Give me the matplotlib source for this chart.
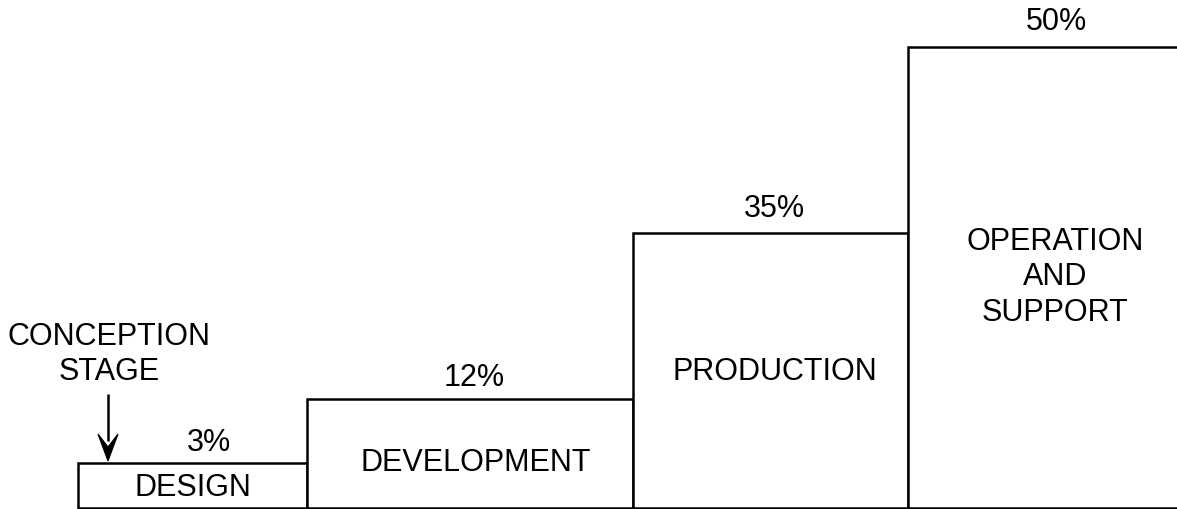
import matplotlib
matplotlib.use("Agg")
import matplotlib.pyplot as plt
from matplotlib.patches import Polygon

# ---- data ----
stages = ["DESIGN", "DEVELOPMENT", "PRODUCTION", "OPERATION\nAND\nSUPPORT"]
shares = [3, 12, 35, 50]
share_labels = [f"{s}%" for s in shares]
# schematic step heights and widths as drawn in the picture (arbitrary units)
step_heights = [45, 108.5, 274.5, 460.5]
step_widths = [229, 326, 275, 290]
note = "CONCEPTION\nSTAGE"

plt.rcParams['font.family'] = ['Liberation Sans', 'DejaVu Sans']
FS = 22
LS = 1.24
W, H = 1177, 510

fig = plt.figure(figsize=(W / 100, H / 100), dpi=100)
ax = fig.add_axes([0, 0, 1, 1])
ax.set_xlim(0, W)
ax.set_ylim(0, H)
ax.axis('off')

x0 = 78
base = 1.5
lefts = []
x = x0
for w in step_widths:
    lefts.append(x)
    x += w

ax.bar(lefts, step_heights, width=step_widths, bottom=base, align='edge',
       facecolor='white', edgecolor='black', linewidth=1.8, zorder=2)

# percent labels above each step
pct_dx = [16, 4, 4, 3]
pct_dy = [20, 22, 25, 26]
for l, w, h, lab, dx, dy in zip(lefts, step_widths, step_heights, share_labels, pct_dx, pct_dy):
    ax.text(l + w / 2 + dx, base + h + dy, lab, ha='center', va='center', fontsize=FS, zorder=3)

# stage names inside the steps
name_dx = [0, 6, 4.5, 2]
name_dy = [-2, -9, -1, 1]
for l, w, h, lab, dx, dy in zip(lefts, step_widths, step_heights, stages, name_dx, name_dy):
    ax.text(l + w / 2 + dx, base + h / 2 + dy, lab, ha='center', va='center',
            multialignment='center', fontsize=FS, linespacing=LS, zorder=3)

# conception stage note with arrow
ax.text(109, H - 354.5, note, ha='center', va='center', multialignment='center',
        fontsize=FS, linespacing=LS)
tip_x, tip_y = 108, base + step_heights[0] + 1.5
ax.plot([tip_x, tip_x], [tip_y + 20, H - 395], color='black', lw=1.8, solid_capstyle='butt')
head = Polygon([[tip_x, tip_y], [tip_x - 10, tip_y + 27], [tip_x, tip_y + 14],
                [tip_x + 10, tip_y + 27]], closed=True, facecolor='black',
               edgecolor='black', lw=0.8, zorder=4)
ax.add_patch(head)

fig.savefig("out.png", dpi=100)
